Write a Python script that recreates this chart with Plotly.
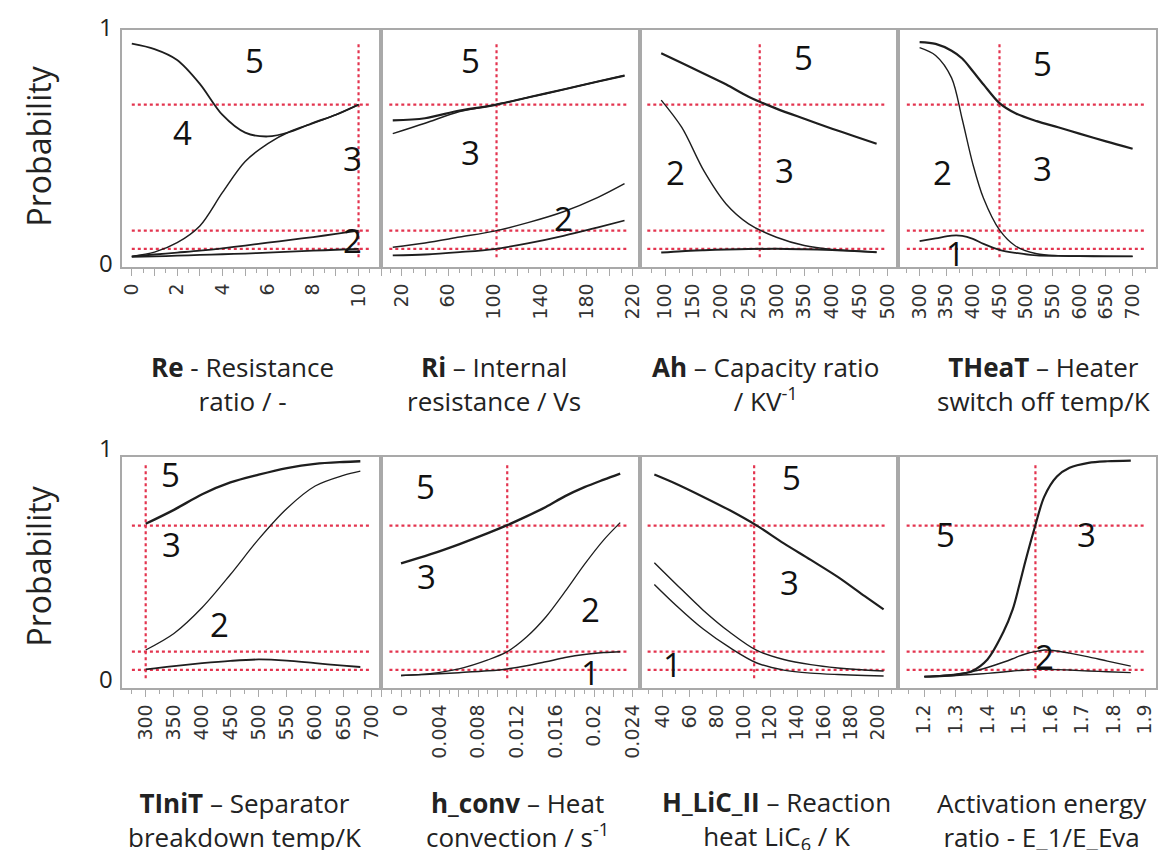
import plotly.graph_objects as go

# ------------------------------------------------------------------ data
# Panel 1: Re - Resistance ratio
re_x = [0, 1, 2, 3, 4, 5, 6, 7, 8, 9, 10]
re_b5 = [0.935, 0.912, 0.866, 0.765, 0.633, 0.558, 0.542, 0.562, 0.600, 0.634, 0.677]
re_b4 = [0.034, 0.052, 0.092, 0.163, 0.305, 0.436, 0.512, 0.564, 0.598, 0.634, 0.677]
re_b3 = [0.034, 0.042, 0.050, 0.058, 0.068, 0.080, 0.092, 0.104, 0.116, 0.129, 0.143]
re_b2 = [0.032, 0.034, 0.037, 0.040, 0.043, 0.046, 0.050, 0.054, 0.058, 0.062, 0.066]

# Panel 2: Ri - Internal resistance
ri_x = [12, 40, 70, 100, 130, 160, 190, 213]
ri_b5 = [0.610, 0.619, 0.652, 0.675, 0.708, 0.741, 0.775, 0.800]
ri_b4 = [0.554, 0.598, 0.648, 0.675, 0.708, 0.741, 0.775, 0.800]
ri_b3 = [0.073, 0.091, 0.116, 0.141, 0.178, 0.223, 0.284, 0.342]
ri_b2 = [0.038, 0.042, 0.052, 0.065, 0.090, 0.121, 0.157, 0.186]

# Panel 3: Ah - Capacity ratio
ah_x = [93, 130, 170, 210, 250, 300, 350, 400, 440, 480]
ah_b5 = [0.894, 0.853, 0.808, 0.762, 0.710, 0.660, 0.617, 0.575, 0.543, 0.511]
ah_b3 = [0.696, 0.580, 0.395, 0.255, 0.172, 0.115, 0.080, 0.063, 0.057, 0.052]
ah_b2 = [0.050, 0.056, 0.060, 0.063, 0.065, 0.066, 0.064, 0.061, 0.057, 0.052]

# Panel 4: THeaT - Heater switch off temp
th_x = [300, 330, 360, 380, 400, 420, 450, 480, 520, 560, 600, 650, 700]
th_b5 = [0.942, 0.934, 0.905, 0.872, 0.818, 0.762, 0.683, 0.640, 0.607, 0.581, 0.554, 0.521, 0.490]
th_b3 = [0.918, 0.885, 0.790, 0.615, 0.425, 0.280, 0.146, 0.078, 0.045, 0.037, 0.036, 0.035, 0.034]
th_b2 = [0.099, 0.110, 0.122, 0.121, 0.108, 0.087, 0.062, 0.049, 0.038, 0.036, 0.035, 0.034, 0.034]

# Panel 5: TIniT - Separator breakdown temp
ti_x = [300, 350, 400, 450, 500, 550, 600, 650, 680]
ti_b5 = [0.685, 0.744, 0.810, 0.860, 0.893, 0.921, 0.939, 0.947, 0.950]
ti_b3 = [0.150, 0.220, 0.330, 0.470, 0.620, 0.750, 0.845, 0.890, 0.908]
ti_b2 = [0.068, 0.082, 0.094, 0.104, 0.110, 0.105, 0.094, 0.084, 0.078]

# Panel 6: h_conv - Heat convection
hc_x = [0, 0.003, 0.006, 0.009, 0.011, 0.013, 0.015, 0.017, 0.019, 0.021, 0.0227]
hc_b5 = [0.517, 0.555, 0.598, 0.645, 0.679, 0.716, 0.756, 0.802, 0.840, 0.872, 0.898]
hc_b3 = [0.042, 0.050, 0.070, 0.108, 0.143, 0.205, 0.290, 0.398, 0.513, 0.617, 0.690]
hc_b2 = [0.042, 0.047, 0.054, 0.062, 0.070, 0.083, 0.100, 0.118, 0.131, 0.139, 0.143]

# Panel 7: H_LiC_II - Reaction heat LiC6
hl_x = [34, 50, 70, 90, 110, 130, 150, 170, 190, 204]
hl_b5 = [0.894, 0.855, 0.800, 0.742, 0.677, 0.602, 0.532, 0.460, 0.378, 0.322]
hl_b3 = [0.520, 0.430, 0.320, 0.225, 0.148, 0.110, 0.088, 0.074, 0.065, 0.061]
hl_b2 = [0.428, 0.340, 0.240, 0.160, 0.095, 0.065, 0.052, 0.046, 0.042, 0.040]

# Panel 8: Activation energy ratio
ae_x = [1.2, 1.3, 1.35, 1.4, 1.45, 1.48, 1.5, 1.52, 1.55, 1.58, 1.62, 1.66, 1.72, 1.78, 1.854]
ae_b5 = [0.037, 0.045, 0.060, 0.110, 0.225, 0.322, 0.420, 0.525, 0.670, 0.800, 0.885, 0.922, 0.943, 0.950, 0.953]
ae_b3 = [0.037, 0.048, 0.058, 0.076, 0.098, 0.113, 0.124, 0.133, 0.143, 0.150, 0.146, 0.137, 0.121, 0.103, 0.082]
ae_b2 = [0.037, 0.042, 0.046, 0.051, 0.057, 0.061, 0.063, 0.065, 0.068, 0.068, 0.067, 0.065, 0.061, 0.058, 0.054]

# reference thresholds (horizontal) and baseline settings (vertical)
thresholds = [0.677, 0.143, 0.066]
baselines = [10, 102, 270, 450, 300, 0.011, 108, 1.552]

# tick labels
re_ticks = [0, 2, 4, 6, 8, 10]
ri_ticks = [20, 60, 100, 140, 180, 220]
ah_ticks = [100, 150, 200, 250, 300, 350, 400, 450, 500]
th_ticks = [300, 350, 400, 450, 500, 550, 600, 650, 700]
ti_ticks = [300, 350, 400, 450, 500, 550, 600, 650, 700]
hc_ticks = [0, 0.004, 0.008, 0.012, 0.016, 0.02, 0.024]
hc_ticktext = ["0", "0.004", "0.008", "0.012", "0.016", "0.02", "0.024"]
hl_ticks = [40, 60, 80, 100, 120, 140, 160, 180, 200]
ae_ticks = [1.2, 1.3, 1.4, 1.5, 1.6, 1.7, 1.8, 1.9]
ae_ticktext = ["1.2", "1.3", "1.4", "1.5", "1.6", "1.7", "1.8", "1.9"]

# axis titles
titles = [
    "<b>Re</b> - Resistance<br>ratio / -",
    "<b>Ri</b> \u2013 Internal<br>resistance / Vs",
    "<b>Ah</b> \u2013 Capacity ratio<br>/ KV<sup>-1</sup>",
    "<b>THeaT</b> \u2013 Heater<br>switch off temp/K",
    "<b>TIniT</b> \u2013 Separator<br>breakdown temp/K",
    "<b>h_conv</b> \u2013 Heat<br>convection / s<sup>-1</sup>",
    "<b>H_LiC_II</b> \u2013 Reaction<br>heat LiC<sub>6</sub> / K",
    "Activation energy<br>ratio - E_1/E_Eva",
]

# region labels per panel: (text, x, y)
region_labels = [
    [("5", 5.41, 0.864), ("4", 2.25, 0.559), ("3", 9.74, 0.449), ("2", 9.74, 0.102)],
    [("5", 79.6, 0.864), ("3", 79.6, 0.475), ("2", 160, 0.195)],
    [("5", 348.6, 0.877), ("2", 119.4, 0.39), ("3", 315, 0.398)],
    [("5", 530.4, 0.852), ("2", 342.4, 0.39), ("3", 530.4, 0.407), ("1", 368.2, 0.047)],
    [("5", 343.5, 0.894), ("3", 345.2, 0.597), ("2", 430.4, 0.258)],
    [("5", 0.00254, 0.843), ("3", 0.00264, 0.462), ("2", 0.01963, 0.322), ("1", 0.01963, 0.055)],
    [("5", 136, 0.881), ("3", 134.5, 0.436), ("1", 47.3, 0.089)],
    [("5", 1.2685, 0.64), ("3", 1.714, 0.64), ("2", 1.58, 0.123)],
]

# ------------------------------------------------------------------ layout geometry / style
W, H = 1169, 850
col_edges = [113, 377, 640, 903, 1166]
row_px = [(30, 267), (457, 688)]
y_ranges = [(-0.011, 0.993), (-0.011, 0.968)]
x_ranges = [(-0.433, 11.0), (2, 226), (54, 518), (259, 744),
            (258, 717), (-0.00205, 0.0247), (23, 214.5), (1.116, 1.934)]
hline_ext = [(0, 10.5), (9, 215), (68, 498), (276, 724),
             (275.6, 696.5), (-0.0012, 0.0235), (29, 206.5), (1.144, 1.901)]
vline_ext = (0.03, 0.935)
tall_step = [1, 20, 50, 50, 50, 0.002, 20, 0.1]
minor_step = [0.5, 10, 25, 25, 25, 0.001, 10, 0.05]
title_cx = [236, 492, 768, 1051, 238, 516, 779, 1050]
title_cy = [384, 384, 384, 384, 820, 820, 820, 820]

panels = [
    (re_x, [re_b5, re_b4, re_b3, re_b2], [1.8, 1.5, 1.8, 1.8], re_ticks, [str(v) for v in re_ticks]),
    (ri_x, [ri_b5, ri_b4, ri_b3, ri_b2], [2.2, 1.5, 1.5, 1.8], ri_ticks, [str(v) for v in ri_ticks]),
    (ah_x, [ah_b5, ah_b3, ah_b2], [2.2, 1.4, 2.0], ah_ticks, [str(v) for v in ah_ticks]),
    (th_x, [th_b5, th_b3, th_b2], [2.2, 1.4, 1.8], th_ticks, [str(v) for v in th_ticks]),
    (ti_x, [ti_b5, ti_b3, ti_b2], [2.4, 1.3, 1.8], ti_ticks, [str(v) for v in ti_ticks]),
    (hc_x, [hc_b5, hc_b3, hc_b2], [2.4, 1.3, 1.5], hc_ticks, hc_ticktext),
    (hl_x, [hl_b5, hl_b3, hl_b2], [2.2, 1.4, 1.4], hl_ticks, [str(v) for v in hl_ticks]),
    (ae_x, [ae_b5, ae_b3, ae_b2], [2.2, 1.4, 1.4], ae_ticks, ae_ticktext),
]

LINE = "#1e1e1e"
RED = "#e3344f"
BORDER = "#a9a9a9"
FONT = "Open Sans, Liberation Sans, Arial, sans-serif"

fig = go.Figure()
shapes = []
annotations = []
layout = {}

for i, (xs, curves, widths, tvals, ttext) in enumerate(panels):
    r, c = divmod(i, 4)
    n = i + 1
    xa = "xaxis" if n == 1 else f"xaxis{n}"
    ya = "yaxis" if n == 1 else f"yaxis{n}"
    xr = "x" if n == 1 else f"x{n}"
    yr = "y" if n == 1 else f"y{n}"
    x0p, x1p = col_edges[c], col_edges[c + 1]
    top, bot = row_px[r]

    # tall ticks (labelled where a tick label exists)
    lo, hi = x_ranges[i]
    st = tall_step[i]
    k = int(lo // st) + 1
    tv, tt = [], []
    while k * st <= hi + 1e-12:
        v = round(k * st, 6)
        match = [j for j, t in enumerate(tvals) if abs(t - v) < 1e-9]
        tv.append(v)
        tt.append(ttext[match[0]] if match else " ")
        k += 1

    layout[xa] = dict(
        domain=[x0p / W, x1p / W], range=list(x_ranges[i]), anchor=yr,
        showline=True, mirror=True, linecolor=BORDER, linewidth=1.5,
        showgrid=False, zeroline=False,
        ticks="outside", ticklen=7, tickwidth=1.3, tickcolor=BORDER,
        tickmode="array", tickvals=tv, ticktext=tt, tickangle=-90,
        tickfont=dict(family="DejaVu Sans, sans-serif", size=19, color="#333333"),
        minor=dict(ticks="outside", ticklen=4, tickwidth=1.2, tickcolor=BORDER,
                   tickmode="linear", tick0=0, dtick=minor_step[i], showgrid=False),
    )
    layout[ya] = dict(
        domain=[1 - bot / H, 1 - top / H], range=list(y_ranges[r]), anchor=xr,
        showline=True, mirror=True, linecolor=BORDER, linewidth=1.5,
        showgrid=False, zeroline=False, ticks="", showticklabels=False,
    )

    # reference lines
    hx0, hx1 = hline_ext[i]
    for t in thresholds:
        shapes.append(dict(type="line", xref=xr, yref=yr, x0=hx0, x1=hx1, y0=t, y1=t,
                           line=dict(color=RED, width=2.2, dash="3px,3px"), layer="below"))
    shapes.append(dict(type="line", xref=xr, yref=yr, x0=baselines[i], x1=baselines[i],
                       y0=vline_ext[0], y1=vline_ext[1],
                       line=dict(color=RED, width=2.2, dash="3px,3px"), layer="below"))

    for ys, w in zip(curves, widths):
        fig.add_trace(go.Scatter(x=xs, y=ys, mode="lines", xaxis=xr, yaxis=yr,
                                 line=dict(color=LINE, width=w, shape="spline", smoothing=0.9),
                                 showlegend=False, hoverinfo="skip"))

    for txt, lx, ly in region_labels[i]:
        annotations.append(dict(text=txt, x=lx, y=ly, xref=xr, yref=yr, showarrow=False,
                                xanchor="center", yanchor="middle",
                                font=dict(family=FONT, size=33, color="#111111")))

    annotations.append(dict(text=titles[i], x=title_cx[i] / W, y=1 - title_cy[i] / H,
                            xref="paper", yref="paper", showarrow=False, align="center",
                            xanchor="center", yanchor="middle",
                            font=dict(family=FONT, size=26, color="#222222")))

# y labels
for ypx, txt in [(27, "1"), (263, "0"), (447, "1"), (678, "0")]:
    annotations.append(dict(text=txt, x=97 / W, y=1 - ypx / H, xref="paper", yref="paper",
                            showarrow=False, xanchor="center", yanchor="middle",
                            font=dict(family=FONT, size=24, color="#222222")))
for ypx in [146, 566]:
    annotations.append(dict(text="Probability", x=28 / W, y=1 - ypx / H, xref="paper", yref="paper",
                            showarrow=False, textangle=-90, xanchor="center", yanchor="middle",
                            font=dict(family=FONT, size=32, color="#222222")))

fig.update_layout(width=W, height=H, margin=dict(l=0, r=0, t=0, b=0),
                  paper_bgcolor="white", plot_bgcolor="white",
                  shapes=shapes, annotations=annotations, **layout)

fig.write_html("out.html")
